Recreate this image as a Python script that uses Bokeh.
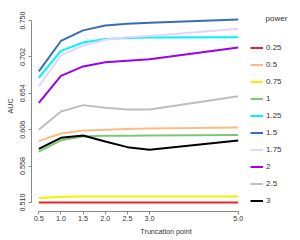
from bokeh.plotting import figure
from bokeh.models import Legend, LegendItem, Range1d, FixedTicker, Label
from bokeh.embed import file_html
from bokeh.resources import INLINE

trunc = [0.5, 1.0, 1.5, 2.0, 2.5, 3.0, 5.0]
powers = ["0.25", "0.5", "0.75", "1", "1.25", "1.5", "1.75", "2", "2.5", "3"]
auc_025 = [0.510, 0.510, 0.510, 0.510, 0.510, 0.510, 0.510]
auc_05 = [0.591, 0.601, 0.605, 0.606, 0.607, 0.6075, 0.609]
auc_075 = [0.516, 0.5175, 0.518, 0.518, 0.518, 0.518, 0.518]
auc_1 = [0.577, 0.592, 0.597, 0.598, 0.598, 0.5985, 0.599]
auc_125 = [0.6745, 0.710, 0.721, 0.7255, 0.727, 0.7277, 0.728]
auc_15 = [0.683, 0.723, 0.737, 0.7435, 0.7457, 0.747, 0.7514]
auc_175 = [0.663, 0.704, 0.717, 0.7245, 0.728, 0.7297, 0.739]
auc_2 = [0.6415, 0.677, 0.6894, 0.695, 0.697, 0.699, 0.7145]
auc_25 = [0.606, 0.630, 0.6384, 0.635, 0.6327, 0.6327, 0.650]
auc_3 = [0.5808, 0.5953, 0.5984, 0.5905, 0.583, 0.5795, 0.5918]
series = [auc_025, auc_05, auc_075, auc_1, auc_125, auc_15, auc_175, auc_2, auc_25, auc_3]
colors = ["#E4262C", "#FDBB84", "#F0F000", "#7CC877", "#00F5F5", "#3A6DB5",
          "#E2D4FF", "#9B00F5", "#BEBEBE", "#000000"]
y_ticks = [0.510, 0.558, 0.606, 0.654, 0.702, 0.750]
x_ticks = [0.5, 1.0, 1.5, 2.0, 2.5, 3.0, 5.0]

FONT = "Liberation Sans"
AX_FS = "7.2px"
LG_FS = "8px"

p = figure(width=300, height=240, output_backend="svg",
           toolbar_location=None, x_range=Range1d(0.3353, 6.4061),
           y_range=Range1d(0.49813, 0.77637),
           min_border_left=31, min_border_top=0, min_border_bottom=29,
           min_border_right=0)
p.outline_line_color = None
p.grid.visible = False
p.background_fill_color = "white"
p.border_fill_color = "white"

items = []
for name, ys, c in zip(powers, series, colors):
    r = p.line(trunc, ys, line_color=c, line_width=2)
    items.append(LegendItem(label=name, renderers=[r]))

for ax in (p.xaxis[0], p.yaxis[0]):
    ax.axis_line_color = "#888888"
    ax.major_tick_line_color = "#888888"
    ax.minor_tick_line_color = None
    ax.major_tick_in = 0
    ax.major_tick_out = 3
    ax.major_label_text_font = FONT
    ax.major_label_text_font_size = AX_FS
    ax.major_label_text_color = "#333333"
    ax.axis_label_text_font = FONT
    ax.axis_label_text_font_size = AX_FS
    ax.axis_label_text_font_style = "normal"
    ax.axis_label_text_color = "#333333"

p.xaxis[0].ticker = FixedTicker(ticks=x_ticks)
p.xaxis[0].bounds = (0.5, 5.0)
p.xaxis[0].major_label_overrides = {t: f"{t:.1f}" for t in x_ticks}
p.xaxis[0].axis_label = "Truncation point"
p.xaxis[0].major_label_standoff = 1
p.xaxis[0].axis_label_standoff = 3

p.yaxis[0].ticker = FixedTicker(ticks=y_ticks)
p.yaxis[0].bounds = (0.510, 0.750)
p.yaxis[0].major_label_overrides = {t: f"{t:.3f}" for t in y_ticks}
p.yaxis[0].major_label_orientation = "vertical"
p.yaxis[0].axis_label = "AUC"
p.yaxis[0].major_label_standoff = 3
p.yaxis[0].axis_label_standoff = 3

legend = Legend(items=items, location=(219, 2),
                label_text_font=FONT, label_text_font_size=LG_FS,
                label_text_color="#333333",
                glyph_width=13, glyph_height=17, label_height=17,
                label_standoff=3, spacing=0, padding=0, margin=0,
                border_line_color=None, background_fill_alpha=0)
p.add_layout(legend, "center")

title = Label(x=234, y=193, x_units="screen", y_units="screen", text="power",
              text_font=FONT, text_font_size=LG_FS, text_color="#333333",
              text_baseline="middle", text_align="left")
p.add_layout(title)

open("out.html", "w").write(file_html(p, INLINE))
